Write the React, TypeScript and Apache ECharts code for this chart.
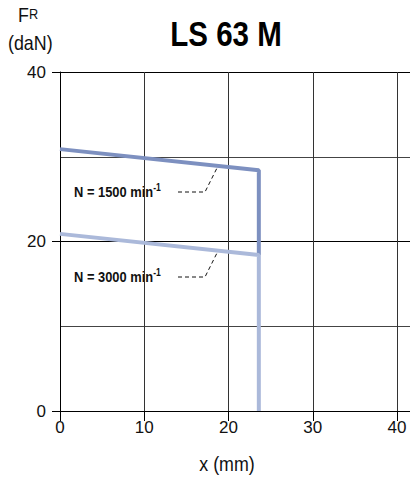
import React, { useEffect, useRef } from "react";
import * as echarts from "echarts";

const FONT = '"Liberation Sans", Arial, sans-serif';

const xTicks = [0, 10, 20, 30, 40];
const yTicks = [0, 20, 40];
const series1500: [number, number][] = [[0, 30.9], [23.6, 28.4], [23.6, 18.4]];
const series3000: [number, number][] = [[0, 20.9], [23.6, 18.4], [23.6, 0]];
const labels = ["N = 1500 min", "N = 3000 min"];
const title = "LS 63 M";

export default function App() {
  const ref = useRef<HTMLDivElement>(null);
  useEffect(() => {
    if (!ref.current) return;
    const chart = echarts.init(ref.current, null, { renderer: "svg" });
    const dash = { stroke: "#111", lineWidth: 1, lineDash: [4, 3] };
    const annRich = {
      a: { fontSize: 15, fontWeight: "bold", fontFamily: FONT, fill: "#111" },
      s: { fontSize: 10, fontWeight: "bold", fontFamily: FONT, fill: "#111", verticalAlign: "top", padding: [0, 0, 8, 0] },
    };
    const option: any = {
      animation: false,
      grid: [
        { left: 60, top: 72, right: 13, bottom: 71 },
        { left: 60, top: 72, right: 0, bottom: 71 },
      ],
      xAxis: [
        {
          gridIndex: 0,
          type: "value",
          min: xTicks[0],
          max: xTicks[xTicks.length - 1],
          interval: 10,
          axisLine: { show: true, lineStyle: { color: "#000", width: 1 } },
          axisTick: { show: true, length: 10, lineStyle: { color: "#000" } },
          axisLabel: { fontSize: 17, color: "#111", margin: 8, fontFamily: FONT },
          splitLine: { show: true, lineStyle: { color: "#333", width: 1 } },
        },
        {
          gridIndex: 1,
          type: "value",
          min: 0,
          max: 1,
          axisLine: { show: true, lineStyle: { color: "#000", width: 1 } },
          axisTick: { show: false },
          axisLabel: { show: false },
          splitLine: { show: false },
        },
      ],
      yAxis: [
        {
          gridIndex: 0,
          type: "value",
          min: 0,
          max: 40,
          show: false,
        },
        {
          gridIndex: 1,
          type: "value",
          min: 0,
          max: 40,
          interval: 20,
          axisLine: { show: true, lineStyle: { color: "#000", width: 1 } },
          axisTick: { show: true, length: 8, lineStyle: { color: "#000" } },
          axisLabel: {
            fontSize: 17,
            color: "#111",
            margin: 14,
            fontFamily: FONT,
            formatter: (v: number) => (yTicks.includes(v) ? String(v) : ""),
          },
          splitLine: { show: true, lineStyle: { color: "#000", width: 1 } },
          minorTick: { show: false, splitNumber: 2 },
          minorSplitLine: { show: true, lineStyle: { color: "#444", width: 1 } },
        },
      ],
      series: [
        {
          type: "line",
          xAxisIndex: 0,
          yAxisIndex: 0,
          data: series1500,
          showSymbol: false,
          lineStyle: { width: 4, color: "#7d90c0" },
          itemStyle: { color: "#7d90c0" },
          z: 3,
        },
        {
          type: "line",
          xAxisIndex: 0,
          yAxisIndex: 0,
          data: series3000,
          showSymbol: false,
          lineStyle: { width: 4, color: "#abb9da" },
          itemStyle: { color: "#abb9da" },
          z: 4,
        },
      ],
      graphic: [
        {
          type: "text",
          x: 226,
          y: 33,
          scaleX: 0.82,
          style: {
            text: title,
            fontSize: 36,
            fontWeight: "bold",
            fontFamily: FONT,
            fill: "#000",
            textAlign: "center",
            textVerticalAlign: "middle",
          },
        },
        {
          type: "text",
          x: 18,
          y: 4,
          scaleX: 0.85,
          style: {
            text: "{f|F}{r|R}",
            rich: {
              f: { fontSize: 21, fontFamily: FONT, fill: "#111" },
              r: { fontSize: 15, fontFamily: FONT, fill: "#111", padding: [0, 0, 2, 0] },
            },
          },
        },
        {
          type: "text",
          x: 8,
          y: 42,
          scaleX: 0.85,
          style: { text: "(daN)", fontSize: 21, fontFamily: FONT, fill: "#111", textVerticalAlign: "middle" },
        },
        {
          type: "text",
          x: 227,
          y: 463,
          scaleX: 0.85,
          style: { text: "x (mm)", fontSize: 21, fontFamily: FONT, fill: "#111", textAlign: "center", textVerticalAlign: "middle" },
        },
        {
          type: "text",
          x: 74,
          y: 192,
          scaleX: 0.86,
          style: { text: `{a|${labels[0]}}{s|-1}`, verticalAlign: "middle", rich: annRich },
        },
        {
          type: "text",
          x: 74,
          y: 277,
          scaleX: 0.86,
          style: { text: `{a|${labels[1]}}{s|-1}`, verticalAlign: "middle", rich: annRich },
        },
        { type: "polyline", shape: { points: [[178, 192], [205, 192], [217, 168]] }, style: { ...dash, fill: null } },
        { type: "polyline", shape: { points: [[178, 277], [205, 277], [217, 253]] }, style: { ...dash, fill: null } },
      ],
    };
    chart.setOption(option);
    return () => chart.dispose();
  }, []);
  return <div ref={ref} style={{ width: 410, height: 482, position: "absolute", left: 0, top: 0 }} />;
}
